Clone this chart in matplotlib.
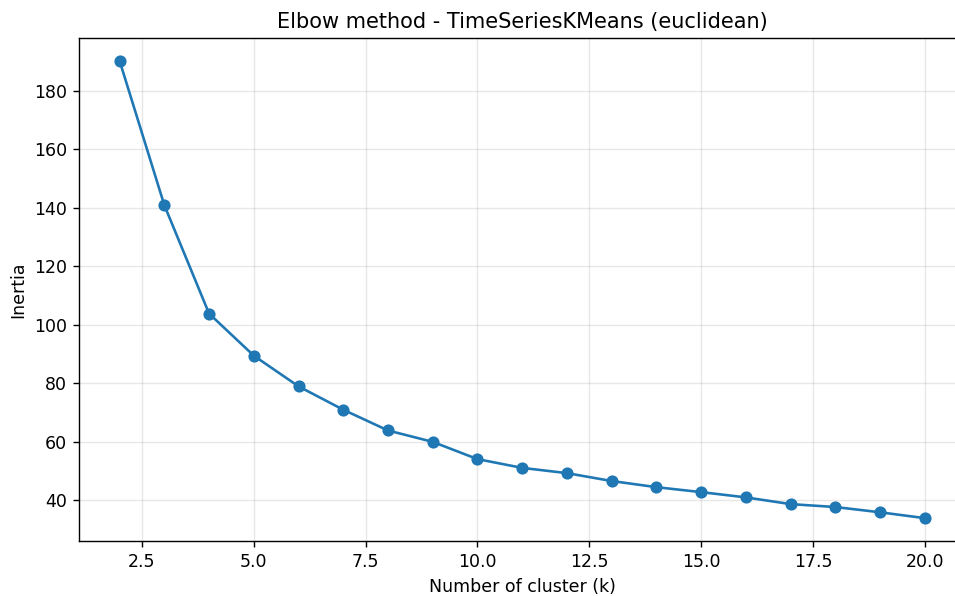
import matplotlib
matplotlib.use("Agg")
import matplotlib.pyplot as plt

# --- Data ---
k_values = list(range(2, 21))
inertia = [190.3, 140.9, 103.8, 89.4, 78.9, 70.9, 63.8, 59.9, 54.0,
           51.0, 49.2, 46.5, 44.4, 42.7, 40.9, 38.6, 37.6, 35.8, 33.8]

# reference looks like an upscaled render, so use a higher dpi
dpi = 125
fig = plt.figure(figsize=(955 / dpi, 596 / dpi), dpi=dpi)
ax = fig.add_axes([0.0831, 0.0923, 0.9274, 0.8439])

ax.plot(k_values, inertia, marker="o", color="#1f77b4")
ax.set_title("Elbow method - TimeSeriesKMeans (euclidean)")
ax.set_xlabel("Number of cluster (k)")
ax.set_ylabel("Inertia")
ax.grid(True, alpha=0.3)

fig.savefig("out.png", dpi=dpi)
